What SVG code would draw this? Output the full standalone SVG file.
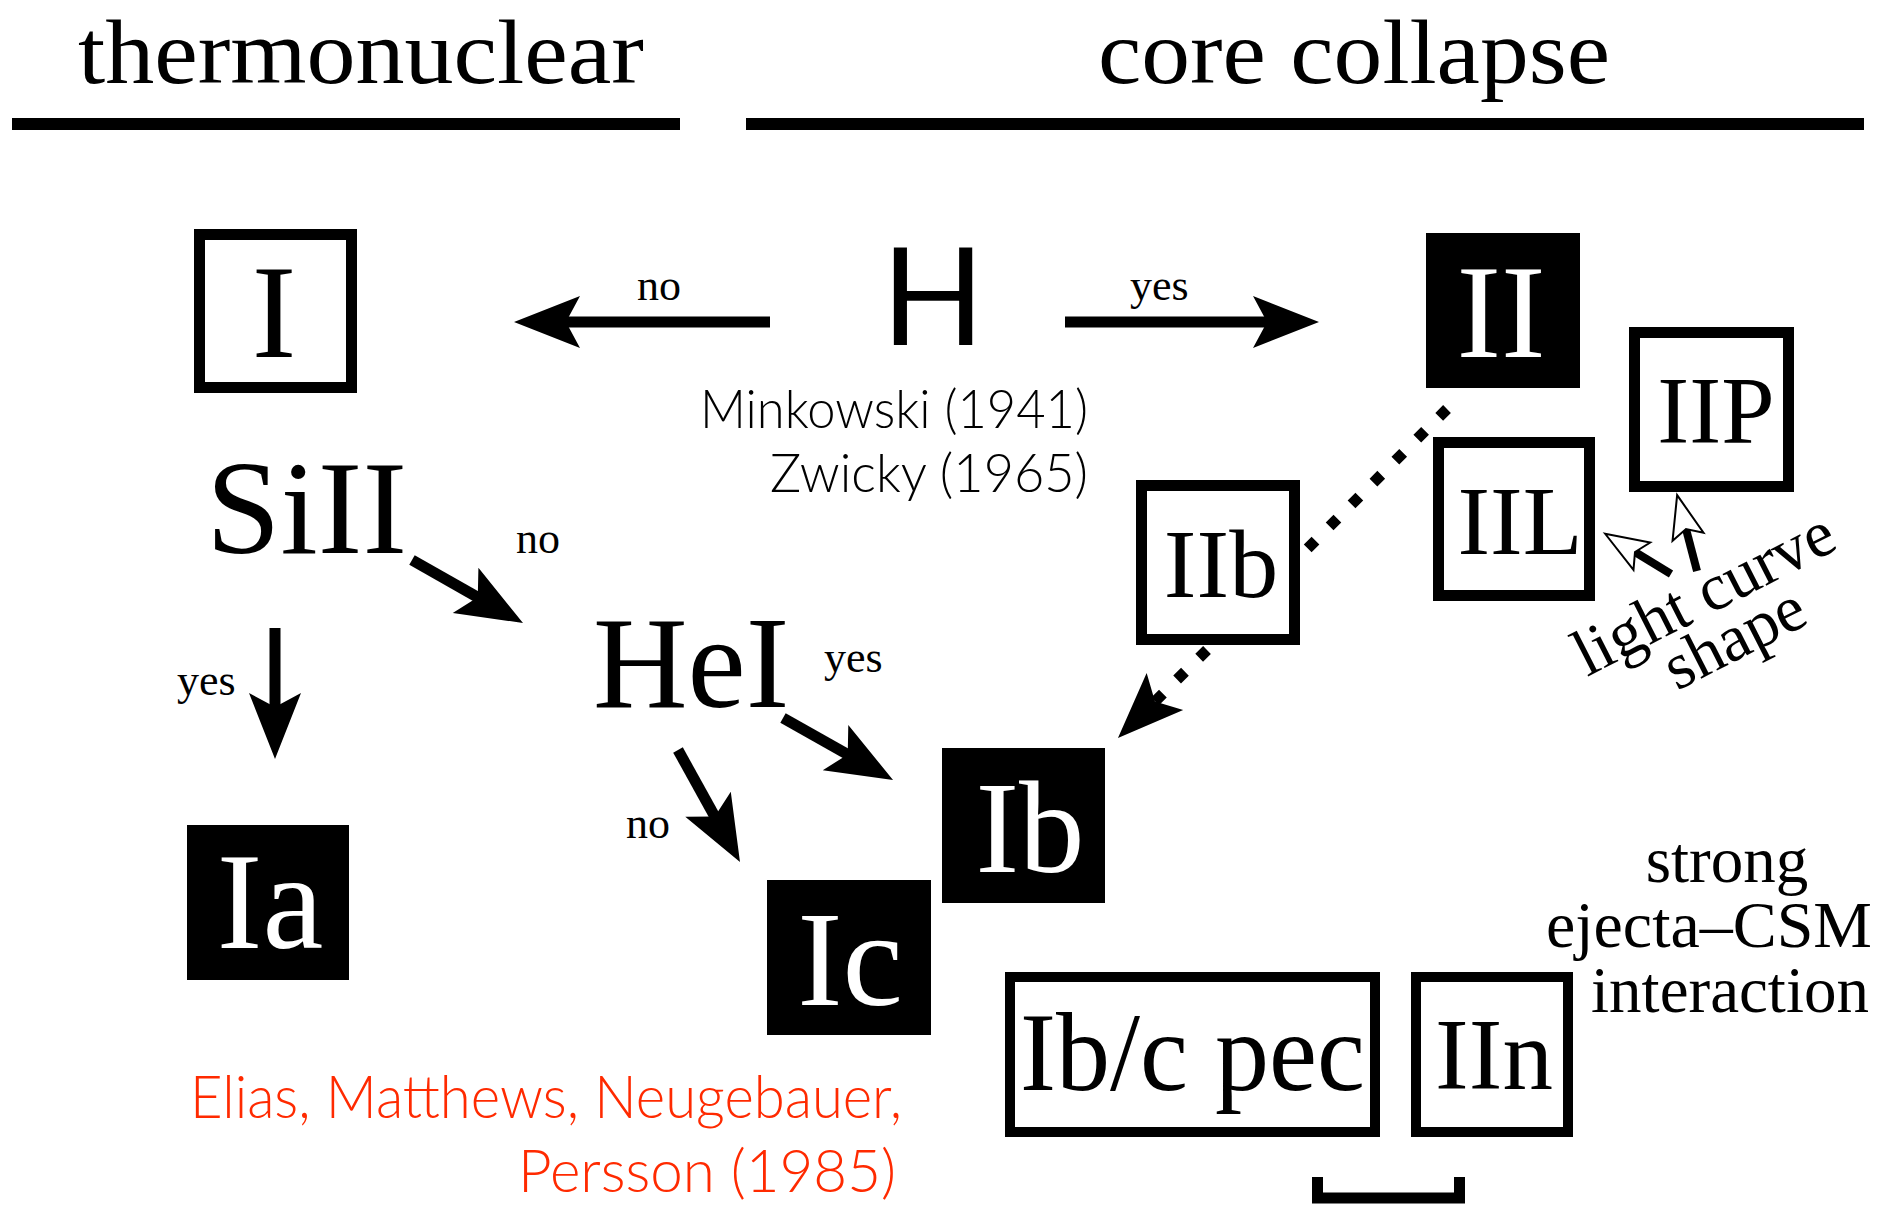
<svg xmlns="http://www.w3.org/2000/svg" width="1880" height="1206" viewBox="0 0 1880 1206">
<style>
.serif{font-family:"Liberation Serif","Times New Roman",serif;fill:#000}
.sans{font-family:Lato,"Open Sans","Liberation Sans",sans-serif}
.box{fill:#fff;stroke:#000;stroke-width:11}
.fbox{fill:#000}
.lbl{font-size:44px}
.arrow{stroke:#000;stroke-width:11;fill:none;marker-end:url(#head)}
.thin{stroke:#000;stroke-width:8;fill:none;marker-end:url(#ohead)}
.dot{stroke:#000;stroke-width:11;fill:none;stroke-dasharray:11 20}
.red{fill:#ff2a00;font-weight:300;font-size:60px}
.cite{fill:#000;font-weight:300;font-size:53px}
</style>
<defs>
<marker id="head" markerUnits="userSpaceOnUse" orient="auto" refX="-20" refY="0" markerWidth="80" markerHeight="60" viewBox="-70 -30 80 60">
<path d="M0,0 L-66,-26 L-52,0 L-66,26 Z" fill="#000"/>
</marker>
<marker id="ohead" markerUnits="userSpaceOnUse" orient="auto" refX="-35" refY="0" markerWidth="60" markerHeight="44" viewBox="-48 -22 56 44">
<path d="M0,0 L-43,-16 L-35,0 L-43,16 Z" fill="#fff" stroke="#000" stroke-width="2" stroke-linejoin="miter"/>
</marker>
</defs>
<rect width="1880" height="1206" fill="#fff"/>

<g id="headers">
<text class="serif" x="78" y="83" font-size="91" textLength="566" lengthAdjust="spacingAndGlyphs">thermonuclear</text>
<rect x="12" y="118" width="668" height="12" fill="#000"/>
<text class="serif" x="1098" y="83" font-size="91" textLength="512" lengthAdjust="spacingAndGlyphs">core collapse</text>
<rect x="746" y="118" width="1118" height="12" fill="#000"/>
</g>

<g id="connectors">
<line class="arrow" x1="770" y1="322" x2="534" y2="322"/>
<line class="arrow" x1="1065" y1="322" x2="1299" y2="322"/>
<line class="arrow" x1="412" y1="560" x2="505.6" y2="613.1"/>
<line class="arrow" x1="275" y1="628" x2="275" y2="739"/>
<line class="arrow" x1="678" y1="750" x2="730.3" y2="844.5"/>
<line class="arrow" x1="783" y1="718" x2="875.6" y2="770.2"/>
<line class="dot" x1="1447" y1="409" x2="1305" y2="551"/>
<line class="dot" x1="1207" y1="650" x2="1132.2" y2="723.9" marker-end="url(#head)"/>
<line class="thin" x1="1671" y1="574" x2="1635" y2="552"/>
<line class="thin" x1="1697" y1="571" x2="1686" y2="529"/>
<path d="M1317.5,1177 V1198 H1459.5 V1177" fill="none" stroke="#000" stroke-width="11"/>
</g>

<g id="labels">
<text class="serif lbl" x="637" y="300">no</text>
<text class="serif lbl" x="1130" y="300">yes</text>
<text class="serif lbl" x="516" y="553">no</text>
<text class="serif lbl" x="177" y="695">yes</text>
<text class="serif lbl" x="824" y="672">yes</text>
<text class="serif lbl" x="626" y="838">no</text>
</g>

<g id="node-H">
<text class="sans" x="933" y="345" font-size="135" text-anchor="middle" fill="#000">H</text>
<text class="sans cite" x="700" y="428" textLength="388" lengthAdjust="spacingAndGlyphs">Minkowski (1941)</text>
<text class="sans cite" x="770" y="492" textLength="318" lengthAdjust="spacingAndGlyphs">Zwicky (1965)</text>
</g>

<g id="node-I">
<rect class="box" x="199.5" y="234.5" width="152" height="153"/>
<text class="serif" x="274" y="357" font-size="134" text-anchor="middle">I</text>
</g>

<g id="node-II">
<rect class="fbox" x="1426" y="233" width="154" height="155"/>
<text class="serif" x="1501" y="357" font-size="134" text-anchor="middle" style="fill:#fff">II</text>
</g>

<g id="node-IIP">
<rect class="box" x="1634.5" y="332.5" width="154" height="154"/>
<text class="serif" x="1716" y="443" font-size="96" text-anchor="middle">IIP</text>
</g>

<g id="node-IIL">
<rect class="box" x="1438.5" y="442.5" width="151" height="153"/>
<text class="serif" x="1520" y="554" font-size="98" text-anchor="middle">IIL</text>
</g>

<g id="node-IIb">
<rect class="box" x="1141.5" y="485.5" width="153" height="154"/>
<text class="serif" x="1221" y="597" font-size="98" text-anchor="middle">IIb</text>
</g>

<g id="node-SiII">
<text class="serif" x="206" y="553" font-size="134">SiII</text>
</g>

<g id="node-HeI">
<text class="serif" x="593" y="707" font-size="131">HeI</text>
</g>

<g id="node-Ia">
<rect class="fbox" x="187" y="825" width="162" height="155"/>
<text class="serif" x="270" y="948" font-size="137" text-anchor="middle" style="fill:#fff">Ia</text>
</g>

<g id="node-Ic">
<rect class="fbox" x="767" y="880" width="164" height="155"/>
<text class="serif" x="850" y="1005" font-size="136" text-anchor="middle" style="fill:#fff">Ic</text>
</g>

<g id="node-Ib">
<rect class="fbox" x="942" y="748" width="163" height="155"/>
<text class="serif" x="1030" y="872" font-size="131" text-anchor="middle" style="fill:#fff">Ib</text>
</g>

<g id="node-Ibcpec">
<rect class="box" x="1010" y="977" width="365" height="155" style="stroke-width:10"/>
<text class="serif" x="1020" y="1090" font-size="112" textLength="345" lengthAdjust="spacingAndGlyphs">Ib/c pec</text>
</g>

<g id="node-IIn">
<rect class="box" x="1416" y="977" width="152" height="155" style="stroke-width:10"/>
<text class="serif" x="1494" y="1089" font-size="101" text-anchor="middle">IIn</text>
</g>

<g id="note-lightcurve">
<text class="serif" font-size="66" transform="translate(1587,677) rotate(-27)">light curve</text>
<text class="serif" font-size="66" transform="translate(1677,691) rotate(-27)">shape</text>
</g>

<g id="note-csm">
<text class="serif" x="1727" y="882" font-size="65" text-anchor="middle">strong</text>
<text class="serif" x="1546" y="947" font-size="65" textLength="326" lengthAdjust="spacingAndGlyphs">ejecta–CSM</text>
<text class="serif" x="1591" y="1012" font-size="65" textLength="278" lengthAdjust="spacingAndGlyphs">interaction</text>
</g>

<g id="note-elias">
<text class="sans red" x="190" y="1118" textLength="712" lengthAdjust="spacingAndGlyphs">Elias, Matthews, Neugebauer,</text>
<text class="sans red" x="518" y="1192" textLength="378" lengthAdjust="spacingAndGlyphs">Persson (1985)</text>
</g>
</svg>
